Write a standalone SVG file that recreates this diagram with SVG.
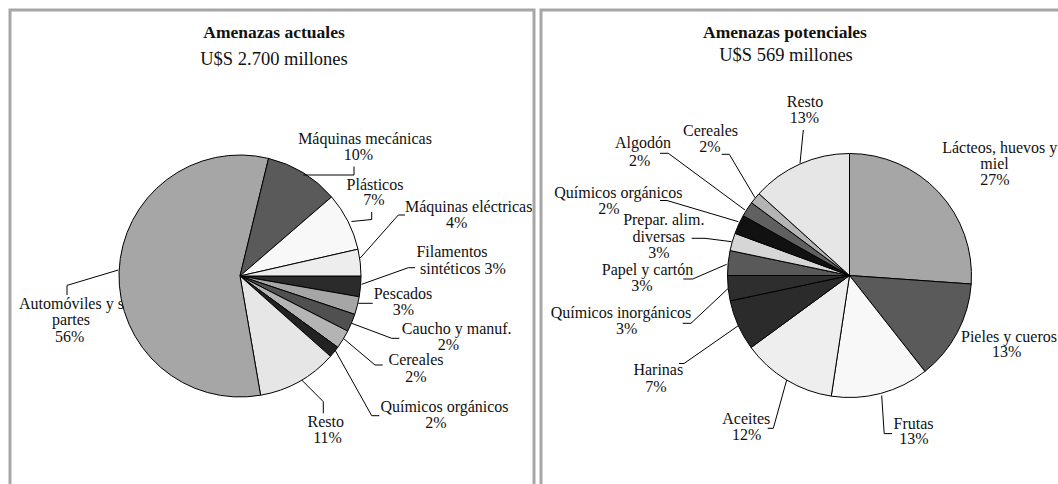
<svg xmlns="http://www.w3.org/2000/svg" width="1058" height="484" viewBox="0 0 1058 484">
<style>
text{font-family:"Liberation Serif","Times New Roman",serif;font-size:16px;fill:#111;text-anchor:middle}
.t{font-weight:bold;font-size:17.5px}
.s{font-size:18.5px}
.frame{fill:none;stroke:#a6a6a6;stroke-width:3}
.sl path{stroke:#000;stroke-width:1;stroke-linejoin:round}
.ld{fill:none;stroke:#000;stroke-width:1}
</style>
<rect width="1058" height="484" fill="#fff"/>
<g id="frames">
<path class="frame" d="M10,484 V10 H534 V484"/>
<path class="frame" d="M541,484 V10 H1058"/>
</g>
<g id="titles">
<text class="t" x="274" y="38">Amenazas actuales</text>
<text class="s" x="274" y="65">U$S 2.700 millones</text>
<text class="t" x="785" y="38">Amenazas potenciales</text>
<text class="s" x="786" y="61">U$S 569 millones</text>
</g>
<g id="label-automoviles">
<text x="19" y="309" style="text-anchor:start">Automóviles y sus</text>
<text x="71" y="325">partes</text>
<text x="69.6" y="342">56%</text>
</g>
<g id="pie-actuales" class="sl">
<path fill="#2b2b2b" d="M240,276 L361,276 A121,121 0 0 1 359.20,296.80 Z"/>
<path fill="#a6a6a6" d="M240,276 L359.20,296.80 A121,121 0 0 1 354.75,314.39 Z"/>
<path fill="#505050" d="M240,276 L354.75,314.39 A121,121 0 0 1 347.71,331.12 Z"/>
<path fill="#b4b4b4" d="M240,276 L347.71,331.12 A121,121 0 0 1 337.77,347.29 Z"/>
<path fill="#222222" d="M240,276 L337.77,347.29 A121,121 0 0 1 330.48,356.33 Z"/>
<path fill="#e6e6e6" d="M240,276 L330.48,356.33 A121,121 0 0 1 260.59,395.23 Z"/>
<path fill="#a6a6a6" d="M240,276 L260.59,395.23 A121,121 0 1 1 268.56,158.41 Z"/>
<path fill="#5a5a5a" d="M240,276 L268.56,158.41 A121,121 0 0 1 331.60,196.94 Z"/>
<path fill="#f8f8f8" d="M240,276 L331.60,196.94 A121,121 0 0 1 357.99,249.20 Z"/>
<path fill="#ededed" d="M240,276 L357.99,249.20 A121,121 0 0 1 361,276 Z"/>
</g>
<g id="connectors-actuales" class="ld">
<path d="M303.3,175 H354 V166.5"/>
<path d="M351.5,221.5 L371.7,219.5 V212"/>
<path d="M360,258.3 L398.3,215 H405"/>
<path d="M361.7,284.3 L408.3,267.7 H415"/>
<path d="M358.3,303.3 H372.7"/>
<path d="M351.7,323.3 L391.7,338.3 H399.3"/>
<path d="M343.3,338.3 L375,365 H382.7"/>
<path d="M335,350 L371.7,415.7 H379.3"/>
<path d="M301.7,380 L323.3,401.7 V413.3"/>
<path d="M118.3,270 L67,285.4 V295"/>
</g>
<g id="labels-actuales">
<g id="l-maqmec"><text x="365" y="144">Máquinas mecánicas</text><text x="358.5" y="160">10%</text></g>
<g id="l-plasticos"><text x="375" y="189.5">Plásticos</text><text x="374" y="205">7%</text></g>
<g id="l-maqelec"><text x="468.7" y="212">Máquinas eléctricas</text><text x="456.7" y="228">4%</text></g>
<g id="l-filamentos"><text x="452" y="256.5">Filamentos</text><text x="463" y="273.5">sintéticos 3%</text></g>
<g id="l-pescados"><text x="403" y="299">Pescados</text><text x="403.3" y="315">3%</text></g>
<g id="l-caucho"><text x="456.7" y="334">Caucho y manuf.</text><text x="448.5" y="350">2%</text></g>
<g id="l-cereales1"><text x="416" y="365">Cereales</text><text x="416" y="381.5">2%</text></g>
<g id="l-quimorg1"><text x="444.5" y="411.5">Químicos orgánicos</text><text x="436" y="427.5">2%</text></g>
<g id="l-resto1"><text x="325.8" y="426.7">Resto</text><text x="327.5" y="443">11%</text></g>
</g>
<g id="pie-potenciales" class="sl">
<path fill="#a6a6a6" d="M849.5,275.5 L849.5,153.5 A122,122 0 0 1 971.20,284.01 Z"/>
<path fill="#5a5a5a" d="M849.5,275.5 L971.20,284.01 A122,122 0 0 1 924.94,371.38 Z"/>
<path fill="#f8f8f8" d="M849.5,275.5 L924.94,371.38 A122,122 0 0 1 831.26,396.13 Z"/>
<path fill="#eeeeee" d="M849.5,275.5 L831.26,396.13 A122,122 0 0 1 751.05,347.55 Z"/>
<path fill="#2b2b2b" d="M849.5,275.5 L751.05,347.55 A122,122 0 0 1 730.17,300.86 Z"/>
<path fill="#2e2e2e" d="M849.5,275.5 L730.17,300.86 A122,122 0 0 1 727.5,275.5 Z"/>
<path fill="#595959" d="M849.5,275.5 L727.5,275.5 A122,122 0 0 1 730.07,250.55 Z"/>
<path fill="#d6d6d6" d="M849.5,275.5 L730.07,250.55 A122,122 0 0 1 735.00,233.37 Z"/>
<path fill="#111111" d="M849.5,275.5 L735.00,233.37 A122,122 0 0 1 743.21,215.61 Z"/>
<path fill="#606060" d="M849.5,275.5 L743.21,215.61 A122,122 0 0 1 751.56,202.76 Z"/>
<path fill="#b4b4b4" d="M849.5,275.5 L751.56,202.76 A122,122 0 0 1 758.98,193.71 Z"/>
<path fill="#e6e6e6" d="M849.5,275.5 L758.98,193.71 A122,122 0 0 1 849.5,153.5 Z"/>
</g>
<g id="connectors-potenciales" class="ld">
<path d="M803.3,130 L800,163.3"/>
<path d="M721.7,154.3 H729.3 L755,197.7"/>
<path d="M660,153.3 H668.3 L745,210"/>
<path d="M660,200.5 H667 L738.3,221.7"/>
<path d="M691.7,238.3 H705 L731.7,241.7"/>
<path d="M683.3,279 H692.7 L726.7,264.3"/>
<path d="M682.7,323.3 H691 L728.3,288.3"/>
<path d="M679,363.5 H684 L738.3,325.7"/>
<path d="M767.7,428.3 H773.3 L786.7,380"/>
<path d="M881.7,395.5 L884.2,433.6 H892"/>
</g>
<g id="labels-potenciales">
<g id="l-resto2"><text x="805" y="107">Resto</text><text x="804.4" y="122.5">13%</text></g>
<g id="l-cereales2"><text x="710.5" y="135.5">Cereales</text><text x="710" y="152">2%</text></g>
<g id="l-algodon"><text x="643" y="148">Algodón</text><text x="639.7" y="166">2%</text></g>
<g id="l-quimorg2"><text x="618.3" y="198.3">Químicos orgánicos</text><text x="609" y="213.5">2%</text></g>
<g id="l-prepar"><text x="663.8" y="225">Prepar. alim.</text><text x="658.8" y="241.7">diversas</text><text x="659" y="257.7">3%</text></g>
<g id="l-papel"><text x="647.5" y="275">Papel y cartón</text><text x="642" y="291">3%</text></g>
<g id="l-quiminorg"><text x="621" y="317.7">Químicos inorgánicos</text><text x="626.7" y="334.3">3%</text></g>
<g id="l-harinas"><text x="658.3" y="375">Harinas</text><text x="655.8" y="391.7">7%</text></g>
<g id="l-aceites"><text x="746.3" y="424.3">Aceites</text><text x="746.7" y="440">12%</text></g>
<g id="l-frutas"><text x="913.5" y="428.5">Frutas</text><text x="913.8" y="443.7">13%</text></g>
<g id="l-pieles"><text x="1009" y="341.5">Pieles y cueros</text><text x="1006.7" y="357.3">13%</text></g>
<g id="l-lacteos"><text x="999.7" y="153">Lácteos, huevos y</text><text x="994.5" y="168.5">miel</text><text x="995" y="185">27%</text></g>
</g>
</svg>
